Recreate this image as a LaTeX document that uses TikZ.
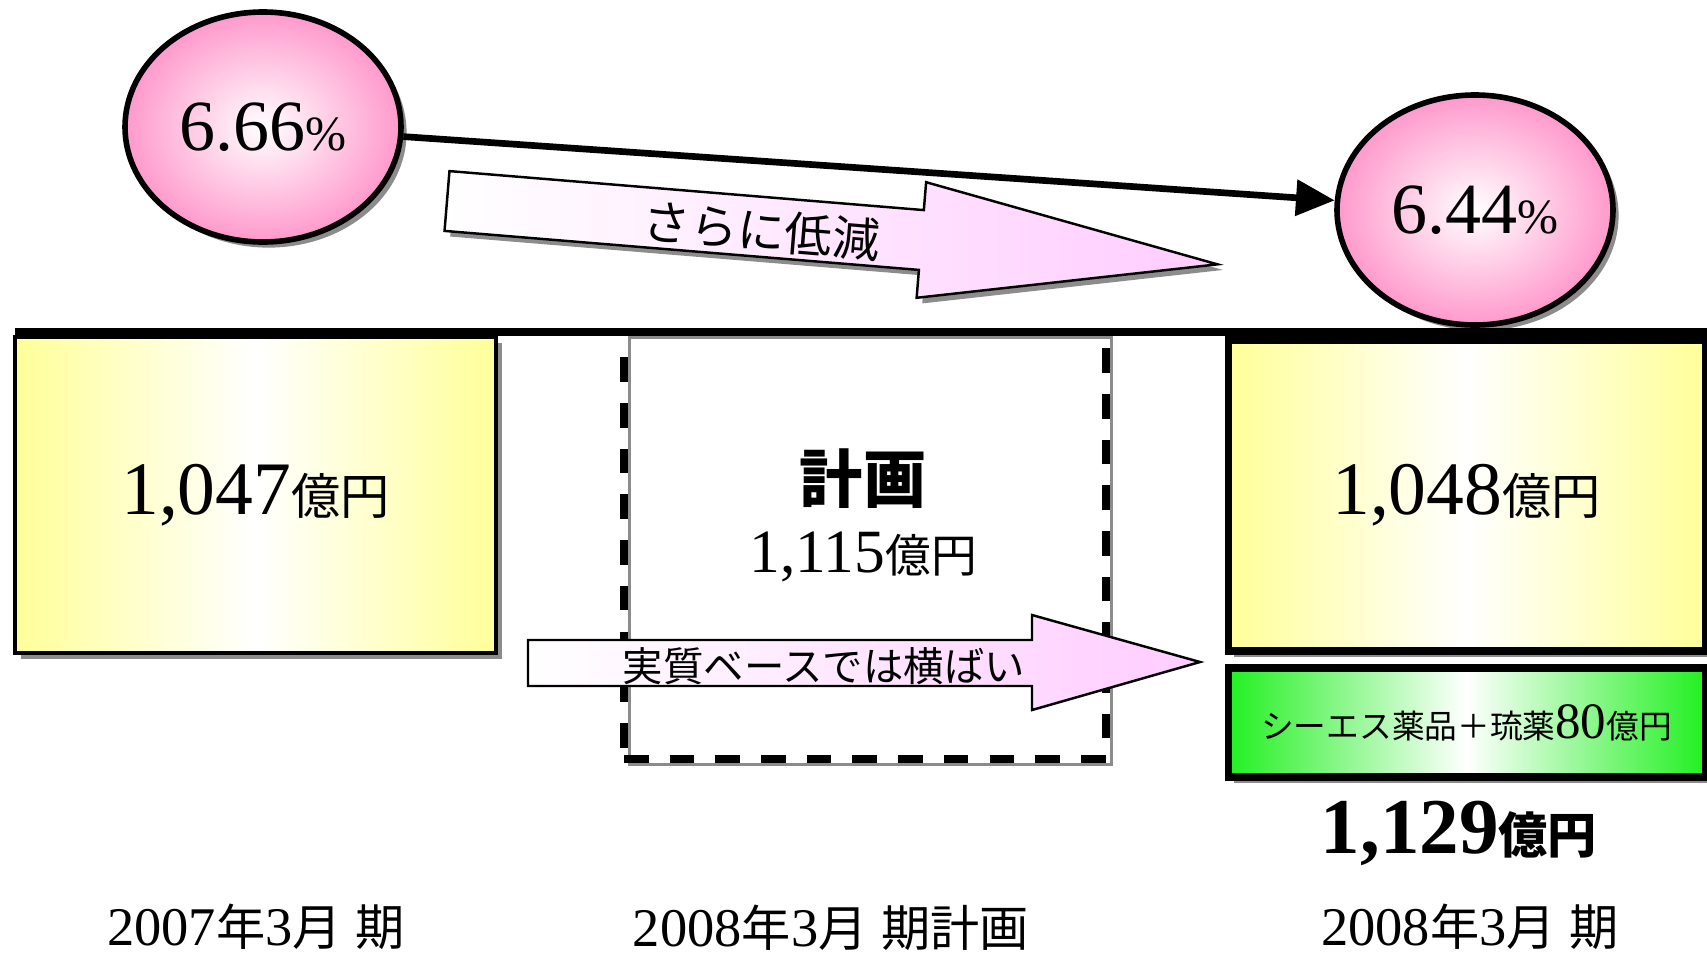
\documentclass[tikz,border=0pt]{standalone}
\usepackage{fontspec}
\setmainfont{Liberation Serif}
\newfontfamily\jp{Noto Sans CJK JP}
\usetikzlibrary{shapes.geometric,arrows.meta,shadows}

\definecolor{ratepink}{HTML}{FF99CC}
\definecolor{boxyellow}{HTML}{FFFF99}
\definecolor{boxgreen}{HTML}{22F022}
\definecolor{arrowpink}{HTML}{FFCCFF}

\newcommand\sz[1]{\fontsize{#1}{#1}\selectfont}
\newcommand\period[1]{\sz{15.5}#1\jp\sz{14}年\rmfamily\sz{15.5}3\jp\sz{14}月\kern4pt 期}

\tikzset{
  grayshadow/.style={drop shadow={shadow xshift=1.6pt,shadow yshift=-1.6pt,fill=gray!90,opacity=1}},
  rate/.style={ellipse,draw,line width=1.6pt,inner color=white,outer color=ratepink,
    minimum width=27.6mm,minimum height=23mm,grayshadow},
  yellowbox/.style={draw,left color=boxyellow,right color=boxyellow,middle color=white,grayshadow},
  greenbox/.style={draw,line width=2pt,left color=boxgreen,right color=boxgreen,middle color=white,grayshadow},
  planbox/.style={draw,line width=2pt,dash pattern=on 7pt off 6pt,
    drop shadow={shadow xshift=1.6pt,shadow yshift=-1.6pt,fill=none,draw=gray!90,line width=1pt,solid,opacity=1}},
  fatarrow/.style={draw,line width=0.7pt,left color=white,right color=arrowpink},
  ratearrow/.style={line width=1.9pt,-{Triangle[length=11pt,width=10pt]}},
  label/.style={inner sep=0pt}
}

\begin{document}
\begin{tikzpicture}[x=0.1mm,y=-0.1mm]
\useasboundingbox (0,0) rectangle (1707,957);

% rates
\node[rate] (r07) at (263,127) {\sz{20.5}6.66\sz{14}\%};
\node[rate] (r08) at (1475,210) {\sz{20.5}6.44\sz{14}\%};
\draw[ratearrow] (r07) -- (r08);

% further down
\begin{scope}[shift={(447,201)},rotate=-4.7]
\path[fatarrow,grayshadow] (0,-30) -- (476,-30) -- (476,-58) -- (773,0)
  -- (476,58) -- (476,30) -- (0,30) -- cycle;
\node[label,rotate=-4.7] (down) at (316,4) {\jp\sz{13.5}さらに低減};
\end{scope}

% sales boxes
\node[yellowbox,line width=1pt,minimum width=48.1mm,minimum height=31.6mm] (s07) at (255.5,495)
  {\sz{21.5}1,047\jp\sz{14}億円};
\node[planbox,minimum width=48.2mm,minimum height=42.7mm] (plan) at (865,545.5) {};
\node[label] (plan head) at (863,479) {\jp\bfseries\sz{18}計画};
\node[label] (plan amt) at (863,557) {\sz{17.5}1,115\jp\sz{13}億円};
\node[yellowbox,line width=2pt,minimum width=47.7mm,minimum height=31.1mm] (s08) at (1466.5,495.5)
  {\sz{21.5}1,048\jp\sz{14}億円};
\node[greenbox,minimum width=47.7mm,minimum height=10.9mm] (add) at (1466.5,722.5)
  {\jp\sz{9.3}シーエス薬品＋琉薬\rmfamily\sz{14.5}80\jp\sz{9.3}億円};
\node[label] (total) at (1459,833) {\bfseries\sz{22.5}1,129\jp\sz{14}億円};

% flat
\path[fatarrow] (528,640) -- (1032,640) -- (1032,615) -- (1200,662)
  -- (1032,710) -- (1032,686) -- (528,686) -- cycle;
\node[label] (flat) at (824,666) {\jp\sz{11.5}実質ベースでは横ばい};

\draw[line width=2pt] (15,332) -- (1707,332);

% periods
\node[label] (p07) at (256,927) {\period{2007}};
\node[label] (p08plan) at (831,928) {\period{2008}計画};
\node[label] (p08) at (1470,927) {\period{2008}};
\end{tikzpicture}
\end{document}
